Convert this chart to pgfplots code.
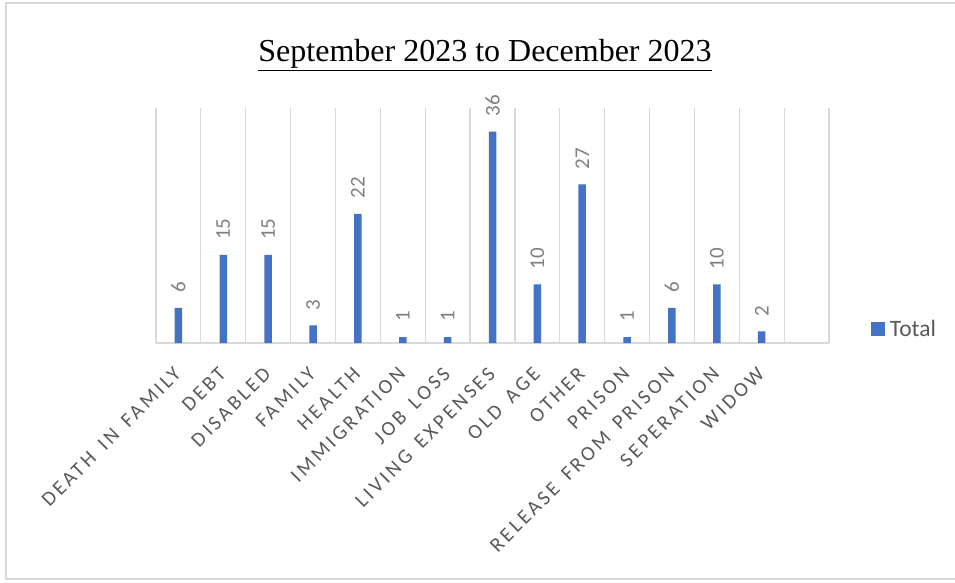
\documentclass[border=0pt]{standalone}
\usepackage{pgfplots}
\pgfplotsset{compat=1.18}
\usepackage{pgfplotstable}
\usepackage{fontspec}
\setmainfont{Carlito}
\newfontfamily\titlefont{Liberation Serif}
\newfontfamily\spacedfont[LetterSpace=15, WordSpace=1.5]{Carlito}

\definecolor{barblue}{HTML}{4472C4}
\definecolor{gridgray}{HTML}{D9D9D9}
\definecolor{labelgray}{HTML}{595959}
\definecolor{valgray}{HTML}{7F7F7F}

% reasons, Sep--Dec 2023
\pgfplotstableread{
idx value
0  6
1  15
2  15
3  3
4  22
5  1
6  1
7  36
8  10
9  27
10 1
11 6
12 10
13 2
}\reasons

\begin{document}
\begin{tikzpicture}
\path[use as bounding box] (0pt,0pt) rectangle (955pt,582pt);
\draw[gridgray, line width=1.5pt] (6pt,3pt) rectangle (960pt,579pt);
\node[anchor=base, font=\titlefont\fontsize{32}{38}\selectfont]
  at (485pt,520pt) {\underline{September 2023 to December 2023}};

\begin{axis}[
  at={(156pt,239pt)}, anchor=south west,
  scale only axis,
  width=673pt, height=235pt,
  xmin=-0.5, xmax=14.5,
  ymin=0, ymax=40,
  enlargelimits=false,
  clip=false,
  ybar, bar width=7.5pt,
  axis x line*=bottom,
  axis y line=none,
  x axis line style={gridgray, line width=1.2pt},
  xtick={0,...,13},
  xticklabels={DEATH IN FAMILY, DEBT, DISABLED, FAMILY, HEALTH,
    IMMIGRATION, JOB LOSS, LIVING EXPENSES, OLD AGE, OTHER, PRISON,
    RELEASE FROM PRISON, SEPERATION, WIDOW},
  xticklabel style={font=\spacedfont\fontsize{20.5}{24}\selectfont,
    text=labelgray, rotate=45, anchor=north east, inner sep=0pt,
    xshift=-8pt},
  xticklabel shift=17pt,
  major tick length=0pt,
  minor xtick={-0.5,0.5,...,14.5},
  minor tick length=0pt,
  xminorgrids=true,
  minor x grid style={gridgray, line width=1.2pt},
  nodes near coords,
  /pgf/number format/assume math mode=true,
  every node near coord/.append style={rotate=90, anchor=west,
    font=\fontsize{21}{25}\selectfont, text=valgray, inner xsep=15pt},
  legend style={at={(1.062,0.06)}, anchor=west, draw=none,
    font=\fontsize{23.5}{28}\selectfont, text=labelgray, inner sep=0pt,
    nodes={inner xsep=5pt}},
  legend image code/.code={\fill[barblue] (0pt,-7pt) rectangle (14pt,7pt);},
]
\addplot[fill=barblue, draw=none] table[x=idx, y=value] {\reasons};
\addlegendentry{Total}
\end{axis}
\end{tikzpicture}
\end{document}
